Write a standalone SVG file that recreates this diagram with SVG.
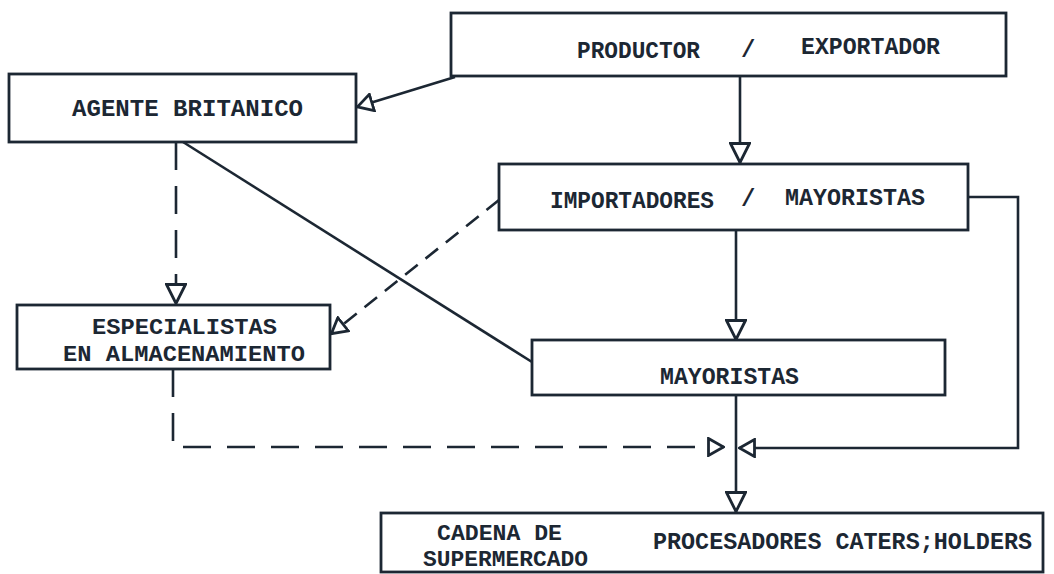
<svg xmlns="http://www.w3.org/2000/svg" width="1054" height="574" viewBox="0 0 1054 574">
<style>
.box{fill:none;stroke:#1c2733;stroke-width:2.8}
.ln{fill:none;stroke:#1c2733;stroke-width:2.6}
.dash{stroke-dasharray:28 16}
.dash2{stroke-dasharray:16 10}
.t{font-family:"Liberation Mono","DejaVu Sans Mono",monospace;font-weight:bold;font-size:24px;fill:#1c2733}
.s{font-size:22px}
</style>
<defs>
<marker id="arr" viewBox="0 0 22 22" refX="21" refY="11" markerWidth="22" markerHeight="22" markerUnits="userSpaceOnUse" orient="auto">
<path d="M1.5,1.5 L20.5,11 L1.5,20.5 Z" fill="#ffffff" stroke="#1c2733" stroke-width="2.8" stroke-linejoin="miter"/>
</marker>
<marker id="arrs" viewBox="0 0 18 20" refX="17" refY="10" markerWidth="18" markerHeight="20" markerUnits="userSpaceOnUse" orient="auto">
<path d="M1.5,1.5 L16.5,10 L1.5,18.5 Z" fill="#ffffff" stroke="#1c2733" stroke-width="2.8"/>
</marker>
</defs>
<rect width="1054" height="574" fill="#ffffff"/>
<g id="connectors">
<path class="ln" d="M740,76 L740,163" marker-end="url(#arr)"/>
<path class="ln" d="M455,77 L357,107" marker-end="url(#arrs)"/>
<path class="ln dash" d="M176,142 L176,304" marker-end="url(#arr)"/>
<path class="ln" d="M183,142 L532,362"/>
<path class="ln dash2" d="M499,200 L331,334" marker-end="url(#arrs)"/>
<path class="ln" d="M736,230 L736,340" marker-end="url(#arr)"/>
<path class="ln" d="M968,197 L1018,197 L1018,448 L739,448" marker-end="url(#arrs)"/>
<path class="ln dash" d="M173,369 L173,447 L724,447" marker-end="url(#arrs)"/>
<path class="ln" d="M736,395 L736,512" marker-end="url(#arr)"/>
</g>
<g id="productor">
<rect class="box" x="451" y="13" width="555" height="63"/>
<text class="t" x="577" y="58" textLength="123" lengthAdjust="spacingAndGlyphs">PRODUCTOR</text>
<text class="t" x="741" y="57">/</text>
<text class="t" x="801" y="54" textLength="139" lengthAdjust="spacingAndGlyphs">EXPORTADOR</text>
</g>
<g id="agente">
<rect class="box" x="9" y="74" width="347" height="68"/>
<text class="t" x="72" y="116" textLength="231" lengthAdjust="spacingAndGlyphs">AGENTE BRITANICO</text>
</g>
<g id="importadores">
<rect class="box" x="499" y="164" width="469" height="66"/>
<text class="t" x="550" y="208" textLength="164" lengthAdjust="spacingAndGlyphs">IMPORTADORES</text>
<text class="t" x="741" y="206">/</text>
<text class="t" x="785" y="205" textLength="140" lengthAdjust="spacingAndGlyphs">MAYORISTAS</text>
</g>
<g id="especialistas">
<rect class="box" x="17" y="305" width="313" height="64"/>
<text class="t s" x="92" y="334" textLength="185" lengthAdjust="spacingAndGlyphs">ESPECIALISTAS</text>
<text class="t s" x="63" y="361" textLength="242" lengthAdjust="spacingAndGlyphs">EN ALMACENAMIENTO</text>
</g>
<g id="mayoristas">
<rect class="box" x="532" y="340" width="413" height="55"/>
<text class="t" x="660" y="384" textLength="139" lengthAdjust="spacingAndGlyphs">MAYORISTAS</text>
</g>
<g id="destinos">
<rect class="box" x="381" y="513" width="662" height="59"/>
<text class="t s" x="437" y="540" textLength="125" lengthAdjust="spacingAndGlyphs">CADENA DE</text>
<text class="t s" x="423" y="566" textLength="165" lengthAdjust="spacingAndGlyphs">SUPERMERCADO</text>
<text class="t" x="653" y="549" textLength="379" lengthAdjust="spacingAndGlyphs">PROCESADORES CATERS;HOLDERS</text>
</g>
</svg>
